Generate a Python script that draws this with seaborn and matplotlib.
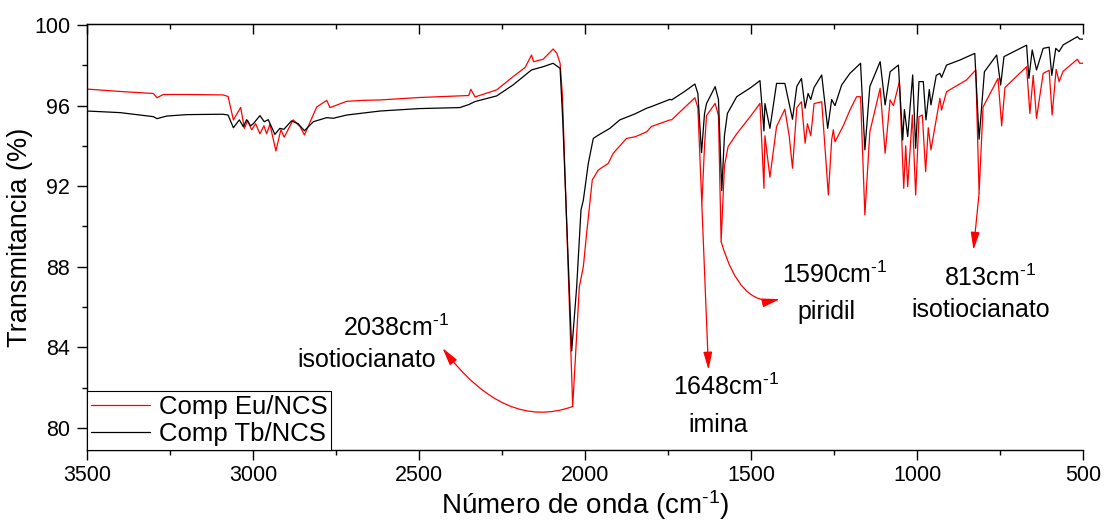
import matplotlib
matplotlib.use("Agg")
import matplotlib.pyplot as plt
import numpy as np
import pandas as pd
import seaborn as sns
from matplotlib.ticker import MultipleLocator

# Comp Eu/NCS (red) -- wavenumber (cm-1) and transmittance (%)
eu_wn = [3500, 3400, 3300, 3289, 3270, 3200, 3090, 3075, 3059, 3037, 3026, 3016, 3004, 2992,
         2979, 2967, 2959, 2949, 2931, 2916, 2906, 2879, 2858, 2845, 2808, 2778, 2768, 2718,
         2668, 2617, 2500, 2377, 2350, 2344, 2331, 2266, 2217, 2180, 2161, 2155, 2126, 2096,
         2085, 2075, 2068, 2037, 2017, 2005, 1995, 1978, 1960, 1930, 1915, 1875, 1849, 1814,
         1800, 1744, 1739, 1669, 1660, 1648, 1640, 1634, 1608, 1598, 1590, 1580, 1569, 1543,
         1500, 1473, 1461, 1458, 1443, 1423, 1398, 1385, 1375, 1362, 1348, 1337, 1330, 1320,
         1310, 1287, 1267, 1257, 1252, 1247, 1222, 1202, 1182, 1170, 1157, 1142, 1111, 1096,
         1081, 1071, 1053, 1040, 1034, 1028, 1014, 1004, 994, 984, 974, 966, 958, 931, 926,
         911, 851, 823, 813, 801, 756, 745, 735, 670, 660, 650, 640, 620, 602, 593, 581, 572,
         560, 517, 510, 500]
eu_t = [96.82, 96.70, 96.60, 96.39, 96.55, 96.55, 96.53, 96.45, 95.29, 95.91, 94.87, 95.26, 94.80, 95.10,
        94.60, 95.00, 94.60, 95.07, 93.75, 94.80, 94.43, 95.29, 94.95, 94.54, 95.93, 96.26, 95.90, 96.21,
        96.26, 96.28, 96.40, 96.48, 96.50, 96.81, 96.43, 96.78, 97.43, 97.90, 98.51, 98.18, 98.30, 98.81,
        98.60, 98.10, 96.50, 81.06, 87.01, 88.00, 89.66, 92.31, 92.80, 93.13, 93.63, 94.37, 94.45, 94.70,
        94.96, 95.29, 95.29, 96.39, 95.90, 91.07, 94.00, 95.50, 96.11, 95.50, 89.25, 93.00, 93.96, 94.60,
        95.50, 96.11, 91.89, 94.50, 92.44, 94.96, 95.82, 94.50, 92.89, 95.90, 96.19, 94.13, 95.10, 94.50,
        96.10, 96.19, 91.56, 94.30, 94.80, 94.20, 95.00, 95.78, 96.44, 96.44, 90.57, 94.70, 96.86, 93.63,
        96.28, 96.00, 97.19, 91.89, 94.00, 91.97, 95.53, 91.56, 95.45, 95.53, 92.72, 94.90, 93.80, 96.36, 95.78,
        96.69, 97.27, 97.77, 91.65, 95.93, 97.35, 94.99, 96.90, 97.93, 95.61, 97.50, 95.37, 97.60, 97.75, 95.53, 97.80, 97.19,
        97.70, 98.30, 98.10, 98.10]

# Comp Tb/NCS (black)
tb_wn = [3500, 3400, 3300, 3289, 3260, 3200, 3150, 3090, 3075, 3059, 3041, 3029, 3019, 3007,
         2999, 2979, 2966, 2954, 2934, 2919, 2907, 2884, 2864, 2845, 2818, 2778, 2758, 2718,
         2617, 2500, 2377, 2350, 2331, 2266, 2217, 2161, 2126, 2096, 2075, 2067, 2040, 2025,
         2012, 2005, 1990, 1975, 1960, 1925, 1895, 1849, 1814, 1800, 1744, 1739, 1700, 1669,
         1660, 1649, 1640, 1634, 1608, 1598, 1588, 1580, 1571, 1543, 1500, 1473, 1461, 1458,
         1443, 1423, 1398, 1375, 1362, 1348, 1337, 1328, 1320, 1310, 1287, 1269, 1257, 1247,
         1227, 1202, 1170, 1157, 1142, 1111, 1096, 1081, 1056, 1043, 1038, 1028, 1013, 1004,
         994, 981, 973, 963, 958, 942, 931, 926, 911, 871, 826, 813, 797, 760, 748, 738, 670,
         663, 653, 640, 620, 602, 594, 582, 572, 560, 517, 510, 500]
tb_t = [95.73, 95.65, 95.45, 95.35, 95.48, 95.55, 95.56, 95.57, 95.53, 94.90, 95.29, 94.95, 95.30, 94.99,
        95.10, 95.50, 95.20, 95.30, 94.57, 94.87, 94.82, 95.24, 95.10, 94.75, 95.20, 95.40, 95.37, 95.53,
        95.73, 95.85, 95.90, 96.05, 96.20, 96.48, 97.02, 97.77, 97.93, 98.10, 97.85, 95.29, 83.82, 87.01,
        90.82, 91.30, 93.13, 94.37, 94.53, 94.87, 95.29, 95.59, 95.87, 95.95, 96.31, 96.28, 96.70, 97.07,
        96.60, 93.66, 95.60, 96.10, 96.94, 96.30, 91.78, 94.50, 95.61, 96.44, 96.90, 97.24, 94.74, 96.10,
        94.87, 97.10, 97.10, 95.32, 96.95, 97.35, 95.87, 96.60, 96.30, 96.90, 97.52, 94.87, 96.30, 96.00,
        97.02, 97.60, 98.10, 93.80, 96.95, 98.18, 96.03, 97.68, 98.01, 94.29, 95.80, 94.46, 97.52, 93.88,
        97.19, 97.19, 95.29, 96.80, 96.03, 97.50, 97.60, 97.40, 98.01, 98.26, 98.59, 94.33, 97.68, 98.51, 97.02, 98.43, 99.00,
        97.35, 98.76, 97.77, 98.84, 98.90, 97.50, 98.84, 98.68, 99.01, 99.42, 99.30, 99.30]

series_names = ["Comp Eu/NCS", "Comp Tb/NCS"]
series_colors = ["#ff0000", "#000000"]

sns.set_style("ticks")
plt.rcParams["font.family"] = ["Liberation Sans", "DejaVu Sans"]
plt.rcParams["mathtext.fontset"] = "custom"
plt.rcParams["mathtext.rm"] = "Liberation Sans"
plt.rcParams["mathtext.it"] = "Liberation Sans"
plt.rcParams["mathtext.default"] = "regular"
for key in ["text.color", "axes.labelcolor", "xtick.color", "ytick.color", "axes.edgecolor"]:
    plt.rcParams[key] = "black"

df = pd.concat([
    pd.DataFrame({"wn": eu_wn, "T": eu_t, "serie": series_names[0]}),
    pd.DataFrame({"wn": tb_wn, "T": tb_t, "serie": series_names[1]}),
], ignore_index=True)

fig = plt.figure(figsize=(11.05, 5.23), dpi=100)
ax = fig.add_axes([0.0787, 0.1396, 0.9014, 0.8145])

sns.lineplot(data=df, x="wn", y="T", hue="serie", palette=dict(zip(series_names, series_colors)),
             estimator=None, sort=False, linewidth=0.9, ax=ax)

ax.set_xlim(3500, 500)
ax.set_ylim(78.9, 100.05)
ax.xaxis.set_major_locator(MultipleLocator(500))
ax.xaxis.set_minor_locator(MultipleLocator(250))
ax.yaxis.set_major_locator(MultipleLocator(4))
ax.yaxis.set_minor_locator(MultipleLocator(2))
ax.tick_params(which="major", direction="out", length=7, width=1, labelsize=15.5, colors="black")
ax.tick_params(which="minor", direction="out", length=3.5, width=1)
ax.tick_params(axis="y", which="major", pad=5)
ax.spines["right"].set_visible(False)
for s in ["left", "bottom", "top"]:
    ax.spines[s].set_linewidth(1.0)
    ax.spines[s].set_color("black")

top = ax.secondary_xaxis("top")
top.xaxis.set_major_locator(MultipleLocator(500))
top.xaxis.set_minor_locator(MultipleLocator(250))
top.tick_params(which="major", direction="in", length=7, width=1, labeltop=False)
top.tick_params(which="minor", direction="in", length=3.5, width=1)

ax.set_xlabel(r"Número de onda (cm$^{\text{-1}}$)", fontsize=20, labelpad=2)
ax.set_ylabel("Transmitancia (%)", fontsize=19.5, labelpad=1)

handles, labels = ax.get_legend_handles_labels()
leg = ax.legend(handles, labels, loc="lower left", fontsize=18.5, frameon=True, fancybox=False,
                edgecolor="black", framealpha=1, borderaxespad=0, borderpad=0.15,
                handlelength=2.3, handletextpad=0.35, labelspacing=0.12)
leg.get_frame().set_linewidth(0.8)
for h in leg.get_lines():
    h.set_linewidth(0.9)

arrow = dict(arrowstyle="-|>,head_length=0.6,head_width=0.15", color="red", lw=0.9,
             mutation_scale=18, shrinkA=0, shrinkB=0)
ax.annotate("", xy=(2429, 83.96), xytext=(2037, 81.06),
            arrowprops=dict(arrow, connectionstyle="angle3,angleA=200,angleB=127"))
ax.annotate("", xy=(1628, 82.88), xytext=(1648, 91.07), arrowprops=arrow)
ax.annotate("", xy=(1413, 86.39), xytext=(1590, 89.25),
            arrowprops=dict(arrow, connectionstyle="angle3,angleA=-74,angleB=12"))
ax.annotate("", xy=(830, 88.83), xytext=(813, 91.65), arrowprops=arrow)

labels_txt = [
    (2569, 84.96, r"2038cm$^{\text{-1}}$"), (2657, 83.37, "isotiocianato"),
    (1575, 82.05, r"1648cm$^{\text{-1}}$"), (1600, 80.15, "imina"),
    (1247, 87.59, r"1590cm$^{\text{-1}}$"), (1274, 85.77, "piridil"),
    (780, 87.43, r"813cm$^{\text{-1}}$"), (807, 85.86, "isotiocianato"),
]
for x, y, t in labels_txt:
    ax.text(x, y, t, fontsize=18, ha="center", va="center", color="black")

fig.savefig("out.png", dpi=100)
